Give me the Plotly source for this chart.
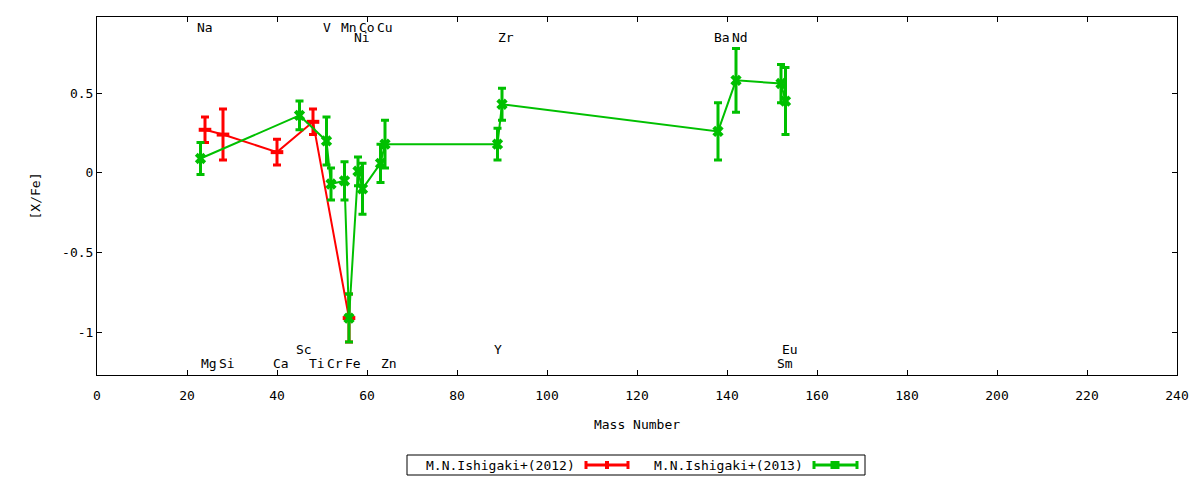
import plotly.graph_objects as go

# ---------------- data ----------------
series_names = ["M.N.Ishigaki+(2012)", "M.N.Ishigaki+(2013)"]

mass_2012 = [24, 28, 40, 48, 56]
xfe_2012 = [0.27, 0.24, 0.13, 0.32, -0.91]
err_2012 = [0.08, 0.16, 0.08, 0.08, 0.15]

mass_2013 = [23, 45, 51, 52, 55, 56, 58, 59, 63, 64, 89, 90, 138, 142, 152, 153]
xfe_2013 = [0.09, 0.36, 0.20, -0.07, -0.05, -0.91, 0.01, -0.10, 0.06, 0.18,
            0.18, 0.43, 0.26, 0.58, 0.56, 0.45]
err_2013 = [0.10, 0.09, 0.15, 0.10, 0.12, 0.15, 0.09, 0.16, 0.12, 0.15,
            0.10, 0.10, 0.18, 0.20, 0.12, 0.21]

element_names = ["Na", "Mg", "Si", "Ca", "Sc", "Ti", "V", "Cr", "Mn", "Fe",
                 "Ni", "Co", "Cu", "Zn", "Y", "Zr", "Ba", "Nd", "Sm", "Eu"]
element_mass = [23, 24, 28, 40, 45, 48, 51, 52, 55, 56,
                58, 59, 63, 64, 89, 90, 138, 142, 152, 153]

x_ticks = [0, 20, 40, 60, 80, 100, 120, 140, 160, 180, 200, 220, 240]
y_ticks = [-1, -0.5, 0, 0.5]
y_tick_labels = ["-1", "-0.5", "0", "0.5"]

# ---------------- style / layout ----------------
FONT = "DejaVu Sans Mono"
RED = "#ff0000"
GREEN = "#00c000"

# label row for each element (layout choice)
label_row = {"Na": 0, "V": 0, "Mn": 0, "Co": 0, "Cu": 0,
             "Ni": 1, "Zr": 1, "Ba": 1, "Nd": 1,
             "Sc": 2, "Y": 2, "Eu": 2,
             "Mg": 3, "Si": 3, "Ca": 3, "Ti": 3, "Cr": 3, "Fe": 3, "Zn": 3, "Sm": 3}
row_level = {0: 0.913, 1: 0.847, 2: -1.104, 3: -1.192}

# page body has an 8px margin; size the figure so the plot lands where the reference is
PAGE_OFF = 8
FIG_W, FIG_H = 1200 - PAGE_OFF, 480 - PAGE_OFF
PLOT_L, PLOT_R, PLOT_T, PLOT_B = 97, 1177, 17, 375  # page pixels

fig = go.Figure()

fig.add_trace(go.Scatter(
    x=mass_2012, y=xfe_2012, mode="lines+markers", name=series_names[0],
    line=dict(color=RED, width=2),
    marker=dict(symbol="line-ew", size=9, color=RED,
                line=dict(color=RED, width=4)),
    error_y=dict(type="data", array=err_2012, visible=True,
                 color=RED, thickness=3, width=4),
    showlegend=False,
))

fig.add_trace(go.Scatter(
    x=mass_2013, y=xfe_2013, mode="lines+markers", name=series_names[1],
    line=dict(color=GREEN, width=2),
    marker=dict(symbol="x", size=10, color=GREEN),
    error_y=dict(type="data", array=err_2013, visible=True,
                 color=GREEN, thickness=3, width=4),
    showlegend=False,
))

annotations = []
for name, m in zip(element_names, element_mass):
    annotations.append(dict(
        x=m, y=row_level[label_row[name]], xref="x", yref="y",
        text=name, showarrow=False, xanchor="left", yanchor="middle",
        xshift=-6, font=dict(family=FONT, size=13, color="black"),
    ))

# custom legend (gnuplot style: text then sample), paper coordinates
def px_x(px):
    return (px - PLOT_L) / float(PLOT_R - PLOT_L)

def px_y(py):
    return (PLOT_B - py) / float(PLOT_B - PLOT_T)

leg_y = px_y(465)
shapes = [dict(type="rect", xref="paper", yref="paper",
               x0=px_x(407), x1=px_x(865), y0=px_y(475), y1=px_y(455),
               line=dict(color="black", width=1), fillcolor="white", layer="above")]

legend_items = [
    (series_names[0], RED, 577, 586, 628),
    (series_names[1], GREEN, 805, 814, 857),
]
for text, col, tx, s0, s1 in legend_items:
    annotations.append(dict(
        x=px_x(tx), y=leg_y, xref="paper", yref="paper", text=text,
        showarrow=False, xanchor="right", yanchor="middle",
        font=dict(family=FONT, size=13, color="black"),
    ))
    shapes.append(dict(type="line", xref="paper", yref="paper",
                       x0=px_x(s0), x1=px_x(s1), y0=leg_y, y1=leg_y,
                       line=dict(color=col, width=3), layer="above"))
    for sx in (s0, s1):
        shapes.append(dict(type="line", xref="paper", yref="paper",
                           x0=px_x(sx), x1=px_x(sx), y0=px_y(469), y1=px_y(461),
                           line=dict(color=col, width=3), layer="above"))
    cx = (s0 + s1) / 2.0
    if col == RED:
        shapes.append(dict(type="rect", xref="paper", yref="paper",
                           x0=px_x(cx - 2), x1=px_x(cx + 2), y0=px_y(469), y1=px_y(461),
                           line=dict(width=0), fillcolor=col, layer="above"))
    else:
        shapes.append(dict(type="rect", xref="paper", yref="paper",
                           x0=px_x(cx - 5), x1=px_x(cx + 4), y0=px_y(469), y1=px_y(461),
                           line=dict(width=0), fillcolor=col, layer="above"))

fig.update_layout(
    width=FIG_W, height=FIG_H,
    margin=dict(l=PLOT_L - PAGE_OFF, r=1200 - PLOT_R, t=PLOT_T - PAGE_OFF,
                b=480 - PLOT_B, pad=0),
    paper_bgcolor="white", plot_bgcolor="white",
    font=dict(family=FONT, size=13, color="black"),
    annotations=annotations, shapes=shapes,
    showlegend=False,
)

fig.update_xaxes(
    range=[0, 240], tickvals=x_ticks, ticks="inside", ticklen=5,
    tickcolor="black", showline=True, linecolor="black", linewidth=1,
    mirror="ticks", showgrid=False, zeroline=False,
    ticklabelstandoff=8,
    title=dict(text="Mass Number", standoff=18,
               font=dict(family=FONT, size=13)),
    tickfont=dict(family=FONT, size=13),
)
fig.update_yaxes(
    range=[-1.267, 0.977], tickvals=y_ticks, ticktext=y_tick_labels,
    ticks="inside", ticklen=5, tickcolor="black", showline=True,
    linecolor="black", linewidth=1, mirror="ticks", showgrid=False,
    zeroline=False,
    title=dict(text="[X/Fe]", standoff=18, font=dict(family=FONT, size=13)),
    tickfont=dict(family=FONT, size=13),
)

fig.write_html("out.html")
